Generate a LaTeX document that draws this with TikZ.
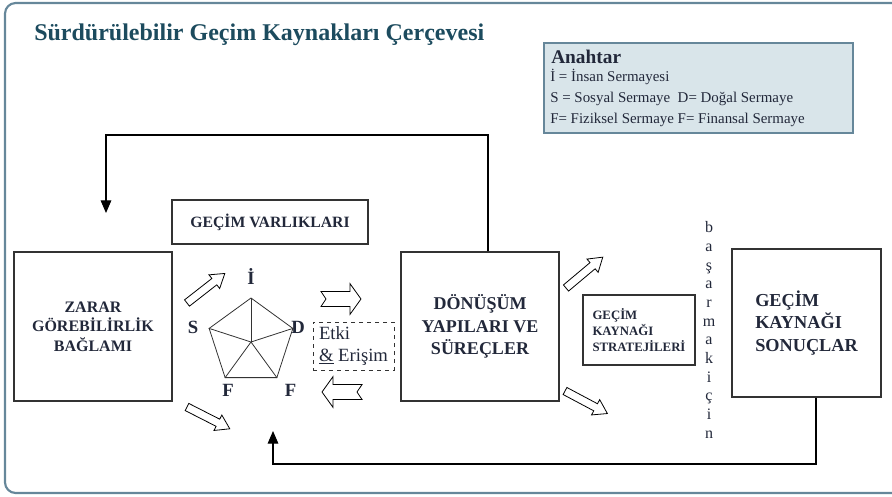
\documentclass[tikz,border=0pt]{standalone}
\usepackage{fontspec}
\setmainfont{Liberation Serif}
\usetikzlibrary{arrows.meta,shapes.geometric,positioning}

\definecolor{framecol}{HTML}{66879A}
\definecolor{keyfill}{HTML}{D9E5EA}
\definecolor{titlecol}{HTML}{1C4B5E}
\definecolor{ink}{HTML}{22283A}

\tikzset{
  box/.style={draw=black!80, line width=0.8pt, align=center, text=ink, inner sep=0pt},
  feed/.style={line width=0.8pt, -{Triangle[width=8pt,length=9.5pt]}},
  lbl/.style={font=\fontsize{14}{14}\selectfont\bfseries, text=ink, inner sep=0pt},
  pics/hollow/.style={code={\draw[line width=0.6pt, fill=white] (0,-3pt) -- (26pt,-3pt) -- (26pt,-6.5pt) -- (36pt,0) -- (26pt,6.5pt) -- (26pt,3pt) -- (0,3pt) -- cycle;}},
  pics/notched/.style={code={\draw[line width=0.6pt, fill=white] (0,-5.6pt) -- (21.7pt,-5.6pt) -- (21.7pt,-11.6pt) -- (30pt,0) -- (21.7pt,11.6pt) -- (21.7pt,5.6pt) -- (0,5.6pt) -- (3.75pt,0) -- cycle;}}
}

\begin{document}
\begin{tikzpicture}[x=0.75pt,y=-0.75pt]
\useasboundingbox (0,0) rectangle (892,496);
\clip (0,0) rectangle (892,496);
\draw[framecol, line width=1.6pt, rounded corners=8pt] (5,3) rectangle (910,493);

% title and key
\node[anchor=base west, inner sep=0pt, text=titlecol, font=\fontsize{18}{20}\selectfont\bfseries] (title) at (34,40) {Sürdürülebilir Geçim Kaynakları Çerçevesi};
\node[draw=framecol, fill=keyfill, line width=1.2pt, minimum width=231.75pt, minimum height=67.5pt, inner sep=0pt] (key) at (698.5,88) {};
\node[anchor=west, inner sep=0pt, text=ink, font=\fontsize{14.5}{16}\selectfont\bfseries] (keyhead) at (551,57) {Anahtar};
\node[anchor=west, inner sep=0pt, align=left, text=ink, font=\fontsize{11.2}{15.5}\selectfont] (keytext) at (550,98) {İ = İnsan Sermayesi\\S = Sosyal Sermaye~ D= Doğal Sermaye\\F= Fiziksel Sermaye F= Finansal Sermaye};

% boxes
\node[box, minimum width=118.5pt, minimum height=111.75pt, font=\fontsize{12}{14.5}\selectfont\bfseries] (zarar) at (93,326.5) {ZARAR\\GÖREBİLİRLİK\\BAĞLAMI};
\node[box, minimum width=147pt, minimum height=33pt, font=\fontsize{11.8}{14}\selectfont\bfseries] (varlik) at (270,222) {GEÇİM VARLIKLARI};
\node[box, minimum width=118.5pt, minimum height=111.75pt, font=\fontsize{13.5}{17}\selectfont\bfseries] (donusum) at (480,326.5) {DÖNÜŞÜM\\YAPILARI VE\\SÜREÇLER};
\node[box, minimum width=84pt, minimum height=52.5pt, align=left, font=\fontsize{9.6}{12}\selectfont\bfseries] (strateji) at (639,330) {GEÇİM\\KAYNAĞI\\STRATEJİLERİ};
\node[box, minimum width=111.75pt, minimum height=111pt, align=left, font=\fontsize{13.7}{17}\selectfont\bfseries] (sonuc) at (806.5,323) {GEÇİM\\KAYNAĞI\\SONUÇLAR};
\node[draw=black!80, dashed, line width=0.7pt, minimum width=60.75pt, minimum height=36pt, align=left, inner sep=1pt, text=ink, font=\fontsize{14}{16}\selectfont] (etki) at (353.5,346) {Etki\\\underline{\&} Erişim};
\node[inner sep=0pt, align=center, text=ink, font=\fontsize{12}{14}\selectfont] (basar) at (709,330) {b\\a\\ş\\a\\r\\m\\a\\k\\i\\ç\\i\\n};

% asset pentagon
\node[draw=black!80, line width=0.6pt, regular polygon, regular polygon sides=5, minimum size=66pt, inner sep=0pt] (pent) at (251,342) {};
\foreach \c in {1,...,5}
  \draw[black!80, line width=0.6pt] (pent.center) -- (pent.corner \c);
\node[lbl] (li) at (251,276) {İ};
\node[lbl] (ls) at (193,327) {S};
\node[lbl] (ld) at (298,327) {D};
\node[lbl] (lf1) at (228,390.5) {F};
\node[lbl] (lf2) at (290.5,390.5) {F};

% hollow arrows
\pic[rotate=38] at (187,303) {hollow};
\pic[rotate=-27] at (187,407) {hollow};
\pic[rotate=40] at (566,288) {hollow};
\pic[rotate=-28] at (565,391) {hollow};
\pic at (321,299) {notched};
\pic[rotate=180] at (362,392) {notched};

% feedback loops
\coordinate (tl) at (106,213);
\coordinate (top) at (488,135);
\draw[feed] (donusum.north -| top) -- (top) -| (tl);
\coordinate (bl) at (273,431);
\coordinate (bot) at (816,464);
\draw[feed] (sonuc.south -| bot) -- (bot) -| (bl);
\end{tikzpicture}
\end{document}
